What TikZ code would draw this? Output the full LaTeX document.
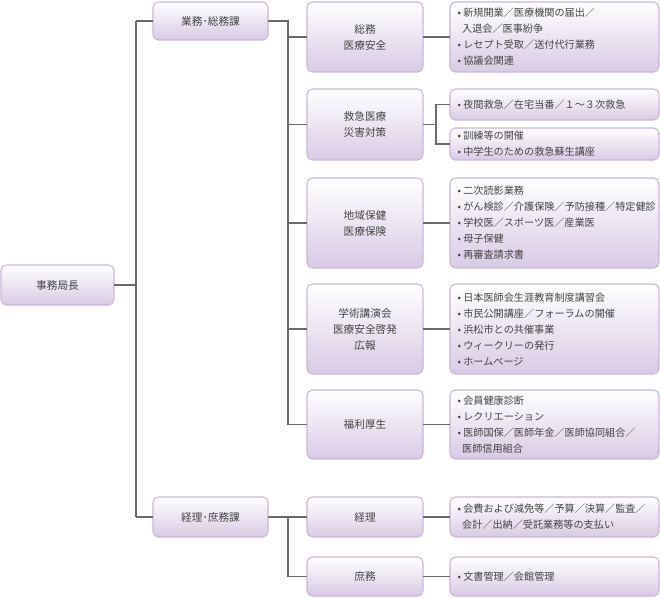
\documentclass[tikz,border=0pt]{standalone}
\usepackage{fontspec}
\setmainfont{Noto Sans CJK JP}
\definecolor{bd}{HTML}{C9B6D9}
\definecolor{bt}{HTML}{D8CAE4}
\definecolor{ln}{HTML}{6A6A6A}
\definecolor{tx}{HTML}{444444}
\begin{document}
\begin{tikzpicture}[x=0.75pt,y=-0.75pt,
  bx/.style={draw=bd,line width=0.8pt,rounded corners=4pt,top color=white,bottom color=bt},
  ln/.style={draw=ln,line width=1pt}]
\useasboundingbox (0,0) rectangle (660,597);
\def\B#1#2#3#4#5#6{\shade[bx] (#2,#3) rectangle (#4,#5); \node[name=#1,inner sep=0,outer sep=0,minimum width={(#4-#2)*0.75pt},minimum height={(#5-#3)*0.75pt}] at ({(#2+#4)/2},{(#3+#5)/2}) {};\node[text=tx,font=\fontsize{8}{12}\selectfont,align=center] at (#1.center) {#6};}
\def\L#1#2#3#4#5#6{\shade[bx] (#2,#3) rectangle (#4,#5); \node[name=#1,inner sep=0,outer sep=0,minimum width={(#4-#2)*0.75pt},minimum height={(#5-#3)*0.75pt}] at ({(#2+#4)/2},{(#3+#5)/2}) {};\node[text=tx,font=\fontsize{7.6}{12}\selectfont,align=left,anchor=west,inner sep=0pt] at ([xshift=5.5pt]#1.west) {#6};}
\B{chief}{1}{265}{114}{305}{事務局長}
\B{gyomu}{153}{2}{268}{40}{業務･総務課}
\B{keiri}{153}{497}{268}{537}{経理･庶務課}
\B{somu}{307}{2}{423}{72}{総務\\医療安全}
\B{kyu}{307}{89}{423}{160}{救急医療\\災害対策}
\B{chiiki}{307}{178}{423}{268}{地域保健\\医療保険}
\B{gaku}{307}{284}{423}{374}{学術講演会\\医療安全啓発\\広報}
\B{fuku}{307}{390}{423}{459}{福利厚生}
\B{kei}{307}{497}{423}{537}{経理}
\B{sho}{307}{557}{423}{596}{庶務}
\L{dsomu}{450}{2}{659}{72}{• 新規開業／医療機関の届出／\\\ \ 入退会／医事紛争\\• レセプト受取／送付代行業務\\• 協議会関連}
\L{dkyua}{450}{89}{659}{120}{• 夜間救急／在宅当番／１～３次救急}
\L{dkyub}{450}{128}{659}{160}{• 訓練等の開催\\• 中学生のための救急蘇生講座}
\L{dchi}{450}{178}{659}{268}{• 二次読影業務\\• がん検診／介護保険／予防接種／特定健診\\• 学校医／スポーツ医／産業医\\• 母子保健\\• 再審査請求書}
\L{dgaku}{450}{284}{659}{374}{• 日本医師会生涯教育制度講習会\\• 市民公開講座／フォーラムの開催\\• 浜松市との共催事業\\• ウィークリーの発行\\• ホームページ}
\L{dfuku}{450}{390}{659}{459}{• 会員健康診断\\• レクリエーション\\• 医師国保／医師年金／医師協同組合／\\\ \ 医師信用組合}
\L{dkei}{450}{497}{659}{537}{• 会費および減免等／予算／決算／監査／\\\ \ 会計／出納／受託業務等の支払い}
\L{dsho}{450}{557}{659}{596}{• 文書管理／会館管理}
\coordinate (v1t) at (136,21); \coordinate (v1b) at (136,517);
\draw[ln] (chief.east) -- (136,285);
\draw[ln] (v1t) -- (v1b);
\draw[ln] (v1t) -- (gyomu.west); \draw[ln] (v1b) -- (keiri.west);
\draw[ln] (gyomu.east) -- (288,21) -- (288,424.5);
\foreach \n in {somu,kyu,chiiki,gaku,fuku} \draw[ln] (288,0 |- \n.west) -- (\n.west);
\draw[ln] (keiri.east) -- (kei.west);
\draw[ln] (288,517) |- (sho.west);
\draw[ln] (somu.east) -- (dsomu.west);
\draw[ln] (kyu.east) -- (436,124.5);
\draw[ln] (dkyua.west) -| (436,144) -- (dkyub.west);
\draw[ln] (chiiki.east) -- (dchi.west);
\draw[ln] (gaku.east) -- (dgaku.west);
\draw[ln] (fuku.east) -- (dfuku.west);
\draw[ln] (kei.east) -- (dkei.west);
\draw[ln] (sho.east) -- (dsho.west);
\end{tikzpicture}
\end{document}
